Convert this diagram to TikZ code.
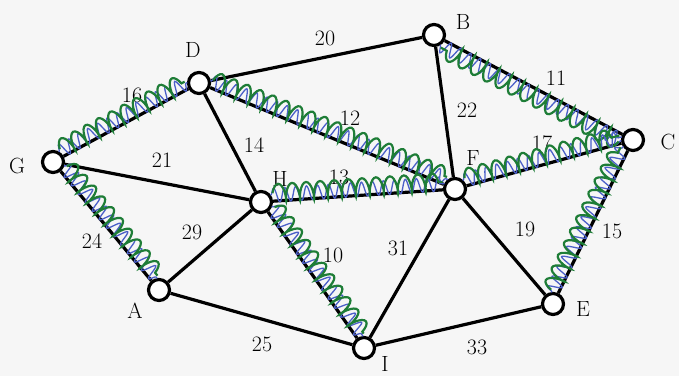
\documentclass[tikz,border=0pt]{standalone}
\usepackage{fontspec}
\usetikzlibrary{decorations.pathmorphing,calc}
\definecolor{penGreen}{RGB}{30,125,55}
\definecolor{penBlue}{RGB}{75,95,200}
\definecolor{paper}{RGB}{246,246,246}
\begin{document}
\begin{tikzpicture}[
  x=1pt,y=-1pt,
  font=\fontsize{22}{26}\selectfont,
  vertex/.style={circle,draw,line width=3.2pt,minimum size=21pt,inner sep=0pt,fill=white},
  edge/.style={line width=3.2pt},
  greenmark/.style={draw=penGreen,line width=2.2pt,decorate,
    decoration={coil,amplitude=9pt,segment length=14pt,aspect=0.3}},
  bluemark/.style={draw=penBlue,line width=1.3pt,decorate,
    decoration={snake,amplitude=7pt,segment length=11pt}}
]
  \fill[paper] (0,0) rectangle (679,376);
  \useasboundingbox (0,0) rectangle (679,376);

  % vertices
  \node[vertex] (B) at (434,35) {};
  \node[vertex] (D) at (199,83) {};
  \node[vertex] (G) at (53,162) {};
  \node[vertex] (C) at (633,140) {};
  \node[vertex] (F) at (455,189) {};
  \node[vertex] (H) at (261,202) {};
  \node[vertex] (A) at (159,290) {};
  \node[vertex] (E) at (553,304) {};
  \node[vertex] (I) at (364,348) {};

  \node (lB) at (463,22) {B};
  \node (lD) at (193,50) {D};
  \node (lG) at (17,166) {G};
  \node (lC) at (668,142) {C};
  \node (lF) at (473,158) {F};
  \node (lH) at (280,179) {H};
  \node (lA) at (135,311) {A};
  \node (lE) at (583,309) {E};
  \node (lI) at (385,364) {I};

  % edges
  \draw[edge] (D) -- (B);
  \draw[edge] (G) -- (D);
  \draw[edge] (D) -- (H);
  \draw[edge] (D) -- (F);
  \draw[edge] (G) -- (H);
  \draw[edge] (G) -- (A);
  \draw[edge] (B) -- (F);
  \draw[edge] (B) -- (C);
  \draw[edge] (F) -- (C);
  \draw[edge] (H) -- (F);
  \draw[edge] (A) -- (H);
  \draw[edge] (H) -- (I);
  \draw[edge] (A) -- (I);
  \draw[edge] (F) -- (I);
  \draw[edge] (F) -- (E);
  \draw[edge] (C) -- (E);
  \draw[edge] (I) -- (E);

  % weights
  \node (w20) at (325,38) {20};
  \node (w16) at (132,95) {16};
  \node (w14) at (254,145) {14};
  \node (w21) at (162,160) {21};
  \node (w11) at (556,78) {11};
  \node (w22) at (467,110) {22};
  \node (w12) at (350,118) {12};
  \node (w17) at (542,143) {17};
  \node (w13) at (339,177) {13};
  \node (w24) at (92,241) {24};
  \node (w29) at (192,232) {29};
  \node (w10) at (333,255) {10};
  \node (w25) at (262,344) {25};
  \node (w31) at (398,248) {31};
  \node (w19) at (525,229) {19};
  \node (w15) at (612,231) {15};
  \node (w33) at (477,347) {33};

  % hand marks, a little to one side of the edge
  \foreach \u/\v in {G/D,D/F,C/B,F/C,E/C,G/A,H/F,H/I}{
    \draw[bluemark] ($(\u)!10pt!(\v)!6pt!90:(\v)$) -- ($(\v)!10pt!(\u)!6pt!-90:(\u)$);
    \draw[greenmark] ($(\u)!12pt!(\v)!8pt!90:(\v)$) -- ($(\v)!12pt!(\u)!8pt!-90:(\u)$);
  }
\end{tikzpicture}
\end{document}
